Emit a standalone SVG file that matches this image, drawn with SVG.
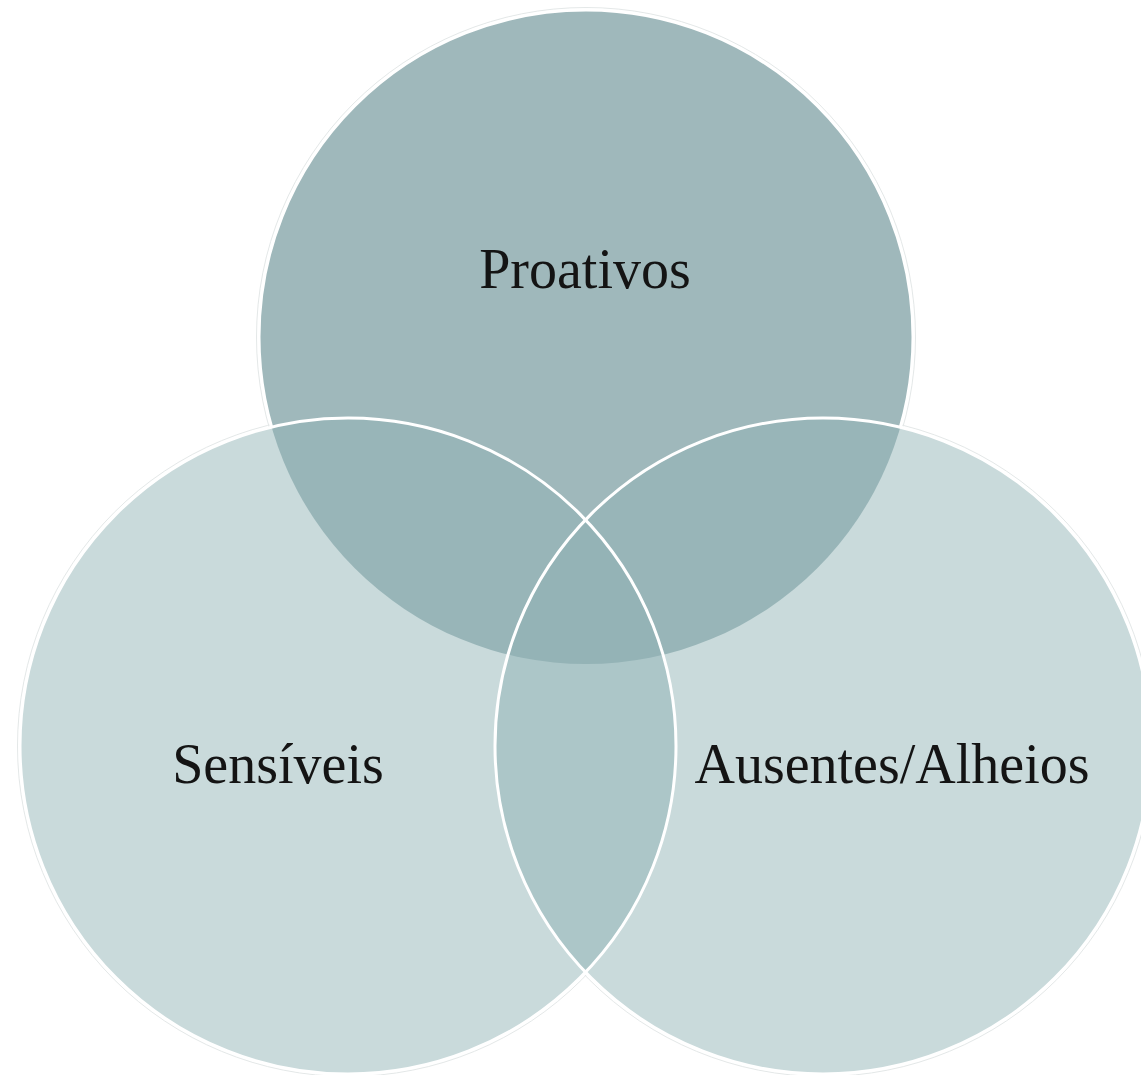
<svg xmlns="http://www.w3.org/2000/svg" width="1141" height="1075" viewBox="0 0 1141 1075">
  <style>
    .lbl { font-family: "Liberation Serif", "Times New Roman", serif; font-size: 56px; fill: #141414; text-anchor: middle; }
    .ring { fill: none; stroke: #ffffff; stroke-width: 3; }
    .halo { fill: none; stroke: #e4e8e8; stroke-width: 1; }
  </style>
  <defs>
    <clipPath id="cTop"><circle cx="586" cy="337" r="327"/></clipPath>
    <clipPath id="cLeft"><circle cx="348" cy="746" r="328"/></clipPath>
    <clipPath id="cRight"><circle cx="823" cy="746" r="328"/></clipPath>
  </defs>
  <rect width="1141" height="1075" fill="#ffffff"/>

  <g id="fills">
    <circle class="halo" cx="586" cy="337" r="329.5"/>
    <circle class="halo" cx="348" cy="746" r="330.5"/>
    <circle class="halo" cx="823" cy="746" r="330.5"/>
    <circle cx="586" cy="337" r="327" fill="#9fb8bb" stroke="#ffffff" stroke-width="3"/>
    <circle cx="348" cy="746" r="328" fill="#c9dadb"/>
    <circle cx="823" cy="746" r="328" fill="#c9dadb"/>
    <circle cx="348" cy="746" r="328" fill="#98b5b8" clip-path="url(#cTop)"/>
    <circle cx="823" cy="746" r="328" fill="#98b5b8" clip-path="url(#cTop)"/>
    <circle cx="823" cy="746" r="328" fill="#acc6c8" clip-path="url(#cLeft)"/>
    <g clip-path="url(#cTop)">
      <circle cx="823" cy="746" r="328" fill="#94b3b6" clip-path="url(#cLeft)"/>
    </g>
  </g>

  <g id="connectors"></g>

  <g id="node-proativos">
    <text class="lbl" x="585" y="288">Proativos</text>
  </g>
  <g id="node-sensiveis">
    <circle class="ring" cx="348" cy="746" r="328"/>
    <text class="lbl" x="278" y="783">Sensíveis</text>
  </g>
  <g id="node-ausentes">
    <circle class="ring" cx="823" cy="746" r="328"/>
    <text class="lbl" x="892" y="783">Ausentes/Alheios</text>
  </g>
</svg>
